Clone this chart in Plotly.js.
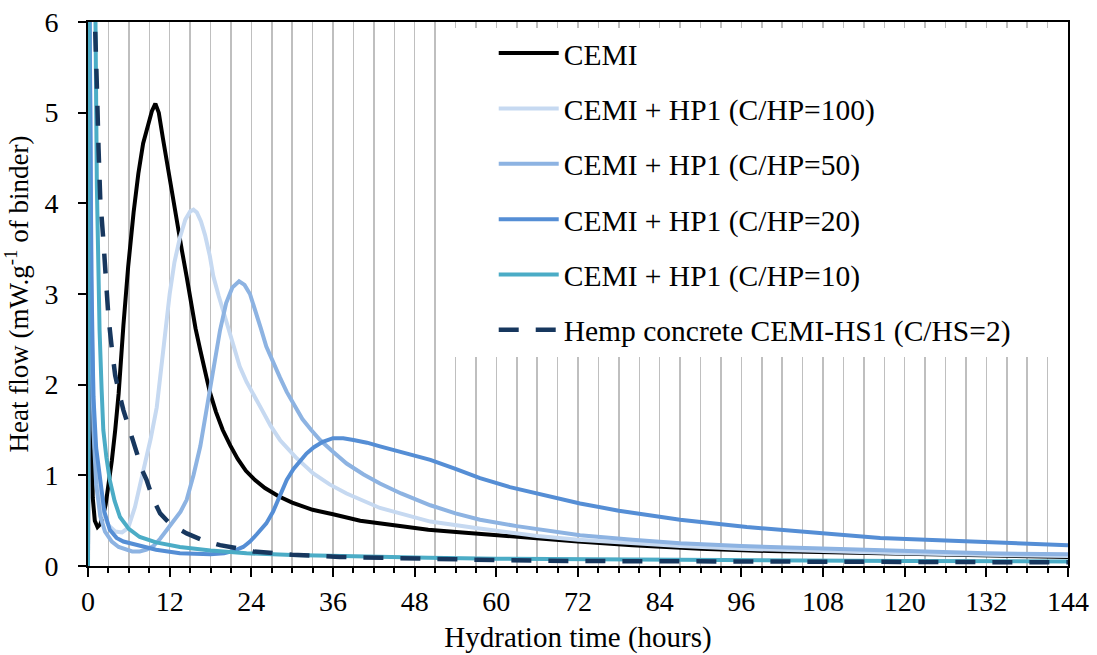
<!DOCTYPE html>
<html>
<head>
<meta charset="utf-8">
<script src="https://cdn.plot.ly/plotly-3.0.1.min.js"></script>
<style>html,body{margin:0;padding:0;background:#fff;}#chart{width:1097px;height:655px;}</style>
</head>
<body>
<div id="chart"></div>
<script>
// ---- Data ----
const seriesNames = [
  "CEMI",
  "CEMI + HP1 (C/HP=100)",
  "CEMI + HP1 (C/HP=50)",
  "CEMI + HP1 (C/HP=20)",
  "CEMI + HP1 (C/HP=10)",
  "Hemp concrete CEMI-HS1 (C/HS=2)"
];

const cemiT = [0, 0.15, 0.4, 0.7, 1.0, 1.4, 1.8, 2.2, 2.6, 3.0, 3.5, 4.0, 4.5, 5.2, 5.9, 6.7, 7.4, 8.1, 8.8, 9.4, 9.9, 10.4, 11.0, 11.6, 12.3, 13.0, 13.8, 14.5, 15.2, 15.8, 16.5, 17.2, 17.9, 18.8, 19.8, 20.9, 22.0, 23.2, 24.5, 26.0, 28.0, 30.0, 33.0, 36.0, 40.0, 45.0, 50.0, 55, 60, 66, 72, 80, 90, 100, 110, 120, 132, 144];
const cemiY = [0, 7.0, 2.2, 0.75, 0.5, 0.43, 0.46, 0.55, 0.68, 0.88, 1.16, 1.5, 1.9, 2.65, 3.3, 3.9, 4.33, 4.66, 4.87, 5.02, 5.1, 5.0, 4.72, 4.44, 4.12, 3.82, 3.48, 3.19, 2.88, 2.62, 2.38, 2.14, 1.92, 1.7, 1.5, 1.33, 1.18, 1.05, 0.95, 0.86, 0.77, 0.70, 0.62, 0.57, 0.50, 0.45, 0.40, 0.37, 0.34, 0.30, 0.27, 0.23, 0.19, 0.165, 0.15, 0.13, 0.115, 0.10];

const hp100T = [0, 0.2, 0.35, 0.6, 1.0, 1.5, 2.0, 3.0, 4.0, 5.0, 5.9, 6.9, 7.6, 8.4, 9.2, 10.1, 10.7, 11.4, 12.0, 12.7, 13.5, 14.3, 15.0, 15.5, 16.0, 16.6, 17.2, 17.9, 18.4, 19.2, 19.9, 20.6, 21.3, 22.3, 23.3, 24.3, 25.5, 26.8, 28.2, 30.5, 33.1, 35.5, 38, 42.9, 50.3, 57, 60, 66, 72, 80, 87, 96, 108, 120, 132, 144];
const hp100Y = [0, 6.8, 5.0, 2.5, 1.3, 0.8, 0.6, 0.45, 0.38, 0.37, 0.42, 0.65, 0.88, 1.13, 1.4, 1.75, 2.15, 2.62, 3.0, 3.35, 3.62, 3.82, 3.91, 3.93, 3.9, 3.8, 3.65, 3.42, 3.2, 2.98, 2.8, 2.6, 2.42, 2.2, 2.03, 1.9, 1.73, 1.55, 1.39, 1.2, 1.02, 0.9, 0.8, 0.64, 0.49, 0.42, 0.39, 0.33, 0.29, 0.25, 0.22, 0.19, 0.16, 0.14, 0.125, 0.11];

const hp50T = [0, 0.2, 0.5, 0.8, 1.2, 1.8, 2.5, 3.5, 4.5, 5.5, 6.5, 7.6, 8.6, 9.6, 10.6, 11.6, 12.6, 13.6, 14.5, 15.5, 16.5, 17.5, 18.4, 19.4, 20.3, 21.2, 22.2, 23.0, 23.8, 24.6, 25.4, 26.2, 27.2, 28.2, 29.2, 30.2, 31.5, 32.8, 34.1, 36, 38, 40.5, 42.9, 46, 50.3, 54, 57.6, 63, 72.3, 80, 87, 96, 108, 120, 132, 144];
const hp50Y = [0, 6.5, 2.8, 1.5, 0.9, 0.55, 0.38, 0.27, 0.21, 0.18, 0.16, 0.16, 0.18, 0.22, 0.3, 0.4, 0.5, 0.6, 0.73, 1.0, 1.32, 1.75, 2.2, 2.6, 2.9, 3.07, 3.14, 3.1, 3.0, 2.82, 2.62, 2.42, 2.24, 2.08, 1.92, 1.78, 1.62, 1.5, 1.39, 1.26, 1.13, 1.01, 0.91, 0.8, 0.67, 0.58, 0.51, 0.44, 0.34, 0.29, 0.25, 0.22, 0.19, 0.16, 0.14, 0.13];

const hp20T = [0, 0.2, 0.5, 0.8, 1.2, 1.76, 2.4, 3.2, 4.2, 5.2, 6.2, 8, 10, 13.5, 16, 18, 20, 21.5, 22.8, 23.8, 24.8, 25.6, 26.2, 27.2, 28.2, 29.2, 30.2, 31.2, 32.1, 33.2, 34.5, 36, 37.5, 39, 41, 42.9, 46, 50.3, 54, 57.6, 62, 67, 72.3, 78, 87, 96.8, 106, 116.4, 126, 135, 144];
const hp20Y = [0, 6.5, 3.2, 1.87, 1.3, 0.95, 0.6, 0.4, 0.31, 0.27, 0.25, 0.21, 0.18, 0.14, 0.13, 0.13, 0.14, 0.17, 0.21, 0.27, 0.35, 0.42, 0.47, 0.6, 0.78, 0.95, 1.07, 1.16, 1.24, 1.31, 1.37, 1.41, 1.41, 1.39, 1.36, 1.32, 1.26, 1.17, 1.07, 0.97, 0.87, 0.78, 0.69, 0.61, 0.51, 0.43, 0.37, 0.31, 0.28, 0.25, 0.23];

const hp10T = [0, 0.15, 0.8, 1.1, 1.3, 1.5, 1.7, 2.0, 2.25, 2.7, 3.2, 3.9, 4.7, 6.0, 7.6, 10, 13.5, 18, 23.3, 30, 40, 50, 60, 75, 90, 105, 120, 132, 144];
const hp10Y = [0, 8.0, 7.5, 6.0, 4.2, 3.0, 2.6, 1.95, 1.5, 1.2, 0.95, 0.72, 0.54, 0.41, 0.32, 0.26, 0.21, 0.17, 0.14, 0.12, 0.10, 0.09, 0.08, 0.07, 0.065, 0.06, 0.055, 0.052, 0.05];

const hempT = [0.9, 1.0, 1.3, 1.55, 1.8, 2.25, 2.65, 3.0, 3.5, 4.0, 4.6, 5.2, 6.2, 7.15, 8.0, 8.6, 9.5, 10.6, 12.0, 13.3, 14.5, 17, 19.4, 22.3, 24.3, 26.7, 30, 37, 50, 60, 72, 90, 108, 126, 144];
const hempY = [6.3, 5.9, 5.3, 4.6, 4.05, 3.6, 3.15, 2.75, 2.4, 2.1, 1.9, 1.72, 1.48, 1.24, 1.05, 0.95, 0.75, 0.58, 0.47, 0.41, 0.36, 0.28, 0.23, 0.19, 0.16, 0.145, 0.125, 0.10, 0.077, 0.065, 0.055, 0.05, 0.045, 0.042, 0.04];

const xTickVals = [0, 12, 24, 36, 48, 60, 72, 84, 96, 108, 120, 132, 144];
const yTickVals = [0, 1, 2, 3, 4, 5, 6];

// ---- Styles ----
const colors = ["#000000", "#c6d9f1", "#8db3e2", "#558ed5", "#4bacc6", "#17375e"];
const xs = [cemiT, hp100T, hp50T, hp20T, hp10T, hempT];
const ys = [cemiY, hp100Y, hp50Y, hp20Y, hp10Y, hempY];
const FONT = "'Liberation Serif', 'Times New Roman', serif";

const traces = seriesNames.map((name, i) => ({
  type: "scatter",
  mode: "lines",
  name: name,
  x: xs[i],
  y: ys[i],
  legendgroup: "g" + i,
  line: {
    color: colors[i],
    width: i === 5 ? 4.5 : 4,
    dash: i === 5 ? "20px,17px" : "solid",
    shape: "linear"
  },
  hoverinfo: "skip"
}));

const layout = {
  width: 1097,
  height: 655,
  margin: {l: 88, r: 29, t: 22, b: 89},
  paper_bgcolor: "#ffffff",
  plot_bgcolor: "#ffffff",
  font: {family: FONT, size: 28, color: "#000000"},
  showlegend: true,
  legend: {
    x: 0.414, y: 0.99, xanchor: "left", yanchor: "top",
    bgcolor: "rgba(255,255,255,0)",
    borderwidth: 0,
    font: {family: FONT, size: 29.5, color: "#000000"},
    tracegroupgap: 14,
    itemwidth: 60,
    traceorder: "grouped"
  },
  xaxis: {
    range: [0, 144],
    tickmode: "array",
    tickvals: xTickVals,
    ticktext: xTickVals.map(String),
    ticks: "outside",
    ticklen: 9,
    tickwidth: 2,
    tickcolor: "#000000",
    showline: true,
    linecolor: "#000000",
    linewidth: 2,
    mirror: true,
    showgrid: true,
    gridcolor: "#bfbfbf",
    gridwidth: 1.5,
    zeroline: false,
    minor: {dtick: 3, tick0: 0, ticks: "outside", ticklen: 5, tickwidth: 2, tickcolor: "#000000", showgrid: true, gridcolor: "#bfbfbf", gridwidth: 1.5},
    tickfont: {family: FONT, size: 28, color: "#000000"},
    title: {text: "Hydration time (hours)", font: {family: FONT, size: 29, color: "#000000"}, standoff: 11}
  },
  yaxis: {
    range: [0, 6],
    tickmode: "array",
    tickvals: yTickVals,
    ticktext: yTickVals.map(String),
    ticks: "outside",
    ticklen: 8,
    tickwidth: 2,
    tickcolor: "#000000",
    ticklabelstandoff: 14,
    showline: true,
    linecolor: "#000000",
    linewidth: 2,
    mirror: true,
    showgrid: false,
    zeroline: false,
    tickfont: {family: FONT, size: 28, color: "#000000"},
    title: {text: "Heat flow (mW.g<sup>-1</sup> of binder)", font: {family: FONT, size: 27, color: "#000000"}, standoff: 8}
  },
  shapes: [{
    type: "rect", xref: "paper", yref: "paper",
    x0: 0.364, x1: 0.997, y0: 0.384, y1: 0.989,
    fillcolor: "#ffffff", line: {width: 0}, layer: "above"
  }]
};

Plotly.newPlot("chart", traces, layout, {staticPlot: true, displayModeBar: false});
</script>
</body>
</html>
